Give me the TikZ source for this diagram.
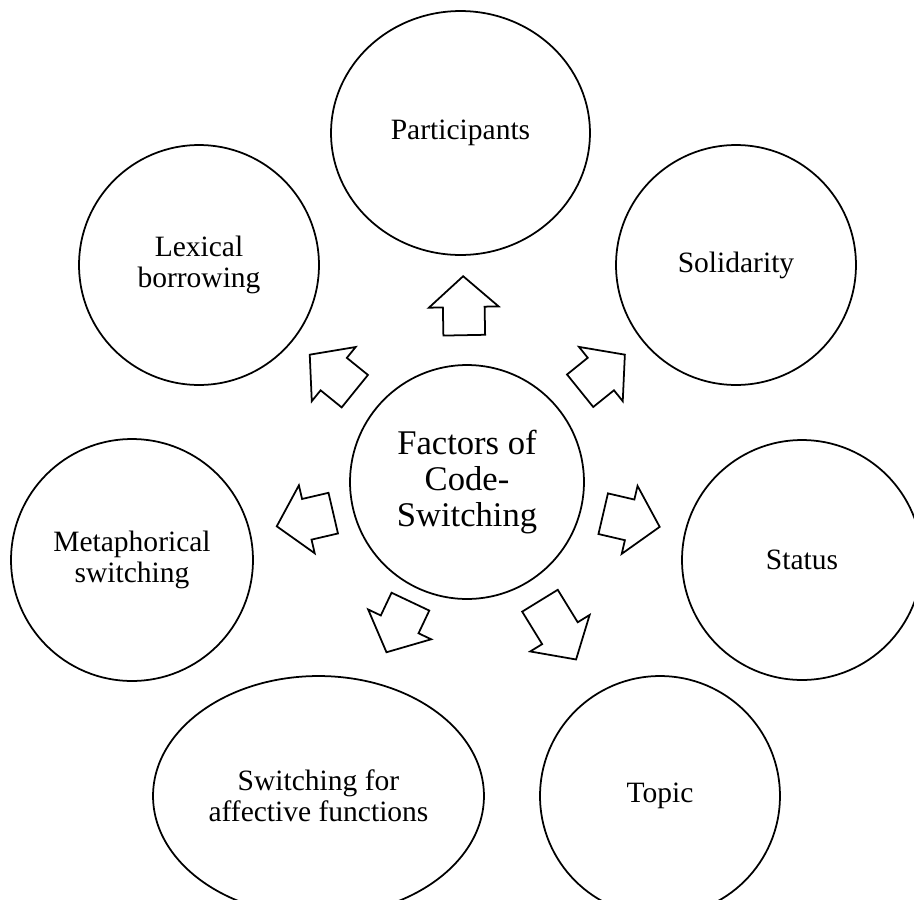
\documentclass[tikz,border=0pt]{standalone}
\usepackage{fontspec}
\setmainfont{Liberation Serif}
\usetikzlibrary{shapes, arrows, positioning, calc}

\tikzset{
  factor/.style={draw, line width=1pt, align=center, inner sep=0pt,
    font=\fontsize{16.8}{17.4}\selectfont},
  roundbox/.style={factor, circle, minimum size=#1},
  ovalbox/.style 2 args={factor, ellipse, minimum width=#1, minimum height=#2},
  blockarrow/.style={single arrow, draw, line width=1pt, inner xsep=0pt,
    inner ysep=0.4cm, single arrow head extend=0.28cm,
    single arrow tip angle=97, anchor=tail}
}

\begin{document}
\begin{tikzpicture}[x=0.02cm, y=-0.02cm]
                \useasboundingbox (0,0) rectangle (914,900);

                % Центр
                \node[roundbox=4.68cm, font=\fontsize{19.7}{20.4}\selectfont] (fac) at (467,482) {Factors of\\Code-\\Switching};

                % Факторы
                \node[ovalbox={5.18cm}{4.88cm}] (part) at (460.5,133) {Participants};
                \node[roundbox=4.8cm] (sol) at (736,265) {Solidarity};
                \node[roundbox=4.8cm] (stat) at (802,560) {Status};
                \node[roundbox=4.8cm] (topic) at (660,796) {Topic};
                \node[ovalbox={6.62cm}{4.8cm}] (aff) at (318.5,796) {Switching for\\affective functions};
                \node[roundbox=4.84cm] (met) at (132,560) {Metaphorical\\switching};
                \node[roundbox=4.8cm] (lex) at (199,265) {Lexical\\borrowing};

                % Стрелки
                \foreach \dest/\dist/\len in {part/2.92cm/1.18cm, sol/2.89cm/1.15cm, stat/2.78cm/1.16cm,
                    topic/2.77cm/1.38cm, aff/2.63cm/1.12cm, met/2.73cm/1.16cm, lex/2.87cm/1.16cm}
                  \path let \p1 = ($(\dest)-(fac)$), \n1 = {atan2(\y1,\x1)} in
                    node[blockarrow, rotate=\n1, minimum height=\len] (arr-\dest) at ($(fac)!\dist!(\dest)$) {};
            \end{tikzpicture}
\end{document}
